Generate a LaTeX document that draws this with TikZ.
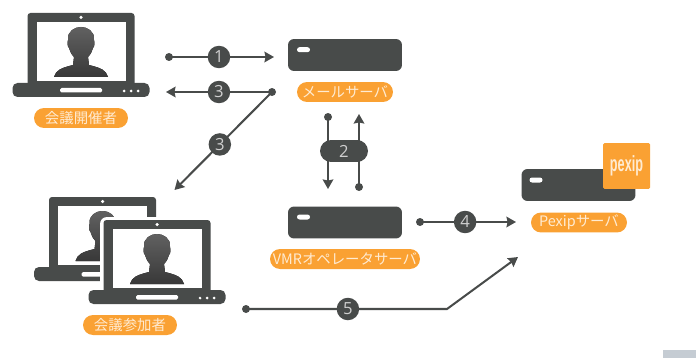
\documentclass[tikz,border=0pt]{standalone}
\usepackage{fontspec}
\setmainfont{Noto Sans CJK JP}
\newfontfamily\digitfont{Open Sans}
\newfontfamily\logofont{Liberation Sans}
\usetikzlibrary{arrows.meta}
\definecolor{darkgray}{HTML}{484B4A}
\definecolor{labelorange}{HTML}{FAA133}
\definecolor{labeltext}{HTML}{FFEBD2}
\definecolor{digitgray}{HTML}{CFCFCF}
\definecolor{cornergray}{HTML}{C5CCD3}
\tikzset{
  line/.style={draw=darkgray, line width=1.15pt},
  dot/.style={circle, fill=darkgray, inner sep=0pt, minimum size=.16cm},
  badge/.style={circle, fill=darkgray, text=digitgray, inner sep=0pt, minimum size=.45cm, font=\digitfont\fontsize{9.5}{10}\selectfont},
  namelabel/.style={rounded corners=.2cm, fill=labelorange, text=labeltext, inner sep=0pt, minimum height=.4cm, font=\fontsize{8.2}{8}\selectfont},
  server/.style={rounded corners=.12cm, fill=darkgray, inner sep=0pt, minimum width=2.28cm, minimum height=.64cm},
  serverslot/.style={rounded corners=.05cm, fill=white, inner sep=0pt, minimum width=.26cm, minimum height=.1cm},
  laptop/.pic={
    % white margin around the machine
    \fill[white, rounded corners=.14cm] (-57,-3) rectangle (57,68) (-72,67) rectangle (72,87);
    \fill[darkgray, rounded corners=.06cm] (-53.5,0) rectangle (53.5,74);
    \fill[darkgray, rounded corners=.1cm] (-68.5,70) rectangle (68.5,84);
    \fill[white] (-44.5,9) rectangle (44.5,68);
    \fill[white] (0,4.5) circle (.035cm);
    \fill[top color=black!62!white, bottom color=black!78!white]
      (-27,64) .. controls (-25,57) and (-20,55) .. (-8,52) -- (-7,44)
      .. controls (-10,41) and (-11,38) .. (-12,35) .. controls (-14,33) and (-13.5,29) .. (-13,27)
      .. controls (-14,18) and (-6,14) .. (0,14) .. controls (6,14) and (14,18) .. (13,27)
      .. controls (13.5,29) and (14,33) .. (12,35) .. controls (11,38) and (10,41) .. (7,44)
      -- (8,52) .. controls (20,55) and (25,57) .. (27,64) -- cycle;
    \fill[white, rounded corners=.03cm] (-21,75) rectangle (21,79.5);
    \foreach \dotx in {43,50,57}{
      \fill[white] (\dotx,78) circle (.03cm);
    }
  }
}
\begin{document}
\begin{tikzpicture}[x=.02cm, y=-.02cm, >={Stealth[length=5.4pt, width=6pt, inset=.6pt]}]
\useasboundingbox (0,0) rectangle (696,358);

\fill[cornergray] (663,350) rectangle (696,358);

\pic at (81,13) {laptop};
\pic at (102.5,197) {laptop};
\pic at (157,220) {laptop};

\node[namelabel, minimum width=1.88cm] (organizer) at (81,118) {会議開催者};
\node[namelabel, minimum width=1.88cm] (attendee) at (130,325) {会議参加者};

\node[server] (mail) at (345,55) {};
\node[serverslot] (mailslot) at (303.5,49.7) {};
\node[namelabel, minimum width=1.92cm] (maillabel) at (345,92) {メールサーバ};

\node[server] (vmr) at (345,222.5) {};
\node[serverslot] (vmrslot) at (303.5,217) {};
\node[namelabel, minimum width=3cm] (vmrlabel) at (345,259) {VMRオペレータサーバ};

\node[server] (pexip) at (578.5,185) {};
\node[serverslot] (pexipslot) at (536,180) {};
\node[namelabel, minimum width=1.92cm] (pexiplabel) at (579,222.5) {Pexipサーバ};
\node[rounded corners=.03cm, fill=labelorange, inner sep=0pt, minimum width=.94cm, minimum height=.92cm] (pexiplogo) at (626.5,166) {};
\node[text=labeltext, inner sep=0pt, xscale=.72, yscale=1.25, font=\logofont\bfseries\fontsize{10}{10}\selectfont] (pexipname) at (626.5,166) {pexip};

% arrows 1 and 3
\node[dot] (start1) at (169,57) {};
\coordinate (end1) at (274,57);
\draw[line, ->] (start1.center) -- node[badge, pos=.476] (badge1) {1} (end1);

\node[dot] (start3) at (272,92) {};
\coordinate (end3a) at (166,92);
\coordinate (end3b) at (174.5,190);
\draw[line, ->] (start3.center) -- node[badge] (badge3a) {3} (end3a);
\draw[line, ->] (start3.center) -- node[badge, pos=.535] (badge3b) {3} (end3b);

% arrow 2, both ways
\node[dot] (start2a) at (328,117) {};
\node[dot] (start2b) at (359,187) {};
\coordinate (end2a) at (328,189);
\coordinate (end2b) at (359,114);
\draw[line, ->] (start2a.center) -- (end2a);
\draw[line, ->] (start2b.center) -- (end2b);
\node[badge, rounded corners=.22cm, rectangle, minimum width=.96cm, minimum height=.44cm] (badge2) at (344,151) {2};

% arrows 4 and 5
\node[dot] (start4) at (420,222) {};
\coordinate (end4) at (516,222);
\draw[line, ->] (start4.center) -- node[badge, pos=.47] (badge4) {4} (end4);

\node[dot] (start5) at (246,309) {};
\coordinate (bend5) at (447,309);
\coordinate (end5) at (518,257);
\draw[line, ->] (start5.center) -- node[badge, pos=.507] (badge5) {5} (bend5) -- (end5);

\end{tikzpicture}
\end{document}
